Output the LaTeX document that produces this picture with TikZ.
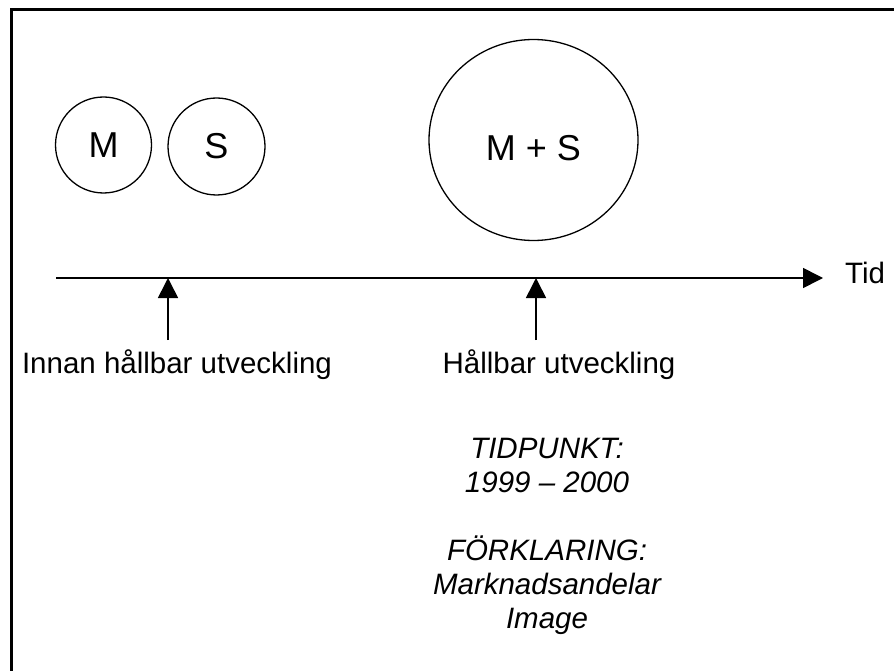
\documentclass[tikz,border=0pt]{standalone}
\usepackage{fontspec}
\setmainfont{Liberation Sans}
\usetikzlibrary{arrows.meta,positioning,shapes.geometric}
\tikzset{
  ar/.style={-{Triangle[length=20pt,width=20pt]},line width=1.6pt},
  blob/.style={draw,line width=1.3pt,inner sep=0pt,font=\fontsize{36}{42}\selectfont},
  lbl/.style={font=\fontsize{29.5}{34}\selectfont,inner sep=0pt,anchor=base}
}

\begin{document}
\begin{tikzpicture}[x=1pt,y=-1pt]
\useasboundingbox (0,0) rectangle (894,671);
\coordinate (F0) at (11,671); \coordinate (F1) at (11,10); \coordinate (F2) at (894,10);
\draw[line width=3pt] (F0)--(F1)--(F2);
\node[blob,circle,minimum size=96pt] (M) at (103.5,145) {M};
\node[blob,circle,minimum size=97pt] (S) at (216.5,146.5) {S};
\node[blob,ellipse,minimum width=209pt,minimum height=201pt,text height=42pt,text depth=0pt] (MS) at (533.5,140) {M + S};
\coordinate (T0) at (56,278); \coordinate (T1) at (823,278);
\coordinate (P1) at (168,278); \coordinate (Q1) at (168,340);
\coordinate (P2) at (536,278); \coordinate (Q2) at (536,340);
\draw[ar] (T0)--(T1);
\draw[ar] (Q1)--(P1);
\draw[ar] (Q2)--(P2);
\node[lbl,anchor=base west] (tid) at (845,283) {Tid};
\node[lbl] (innan) at (177,373) {Innan hållbar utveckling};
\node[lbl] (hall) at (559,373) {Hållbar utveckling};
\node[lbl,align=center,font=\fontsize{29.5}{34}\selectfont\itshape] (note) at (547,628)
  {TIDPUNKT:\\1999 -- 2000\\[34pt]FÖRKLARING:\\Marknadsandelar\\Image};
\end{tikzpicture}
\end{document}
